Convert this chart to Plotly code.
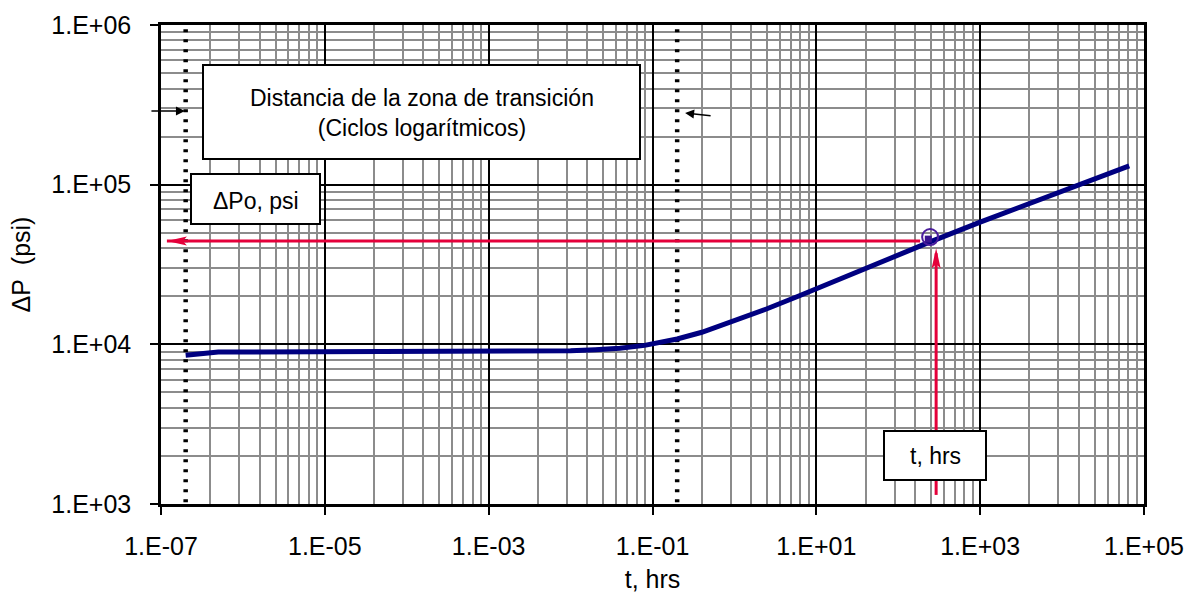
import math
import plotly.graph_objects as go

# ---------------- data ----------------
t_hrs = [2e-7, 3e-7, 4e-7, 5e-7, 1e-6, 1e-5, 1e-4, 1e-3, 5e-3, 1e-2, 2e-2, 4e-2,
         8e-2, 0.2, 0.4, 1, 2.5, 6, 11, 30, 100, 245, 1000, 3000, 1e4, 3e4, 6.6e4]
dp_psi = [8550, 8750, 8900, 8950, 8950, 8950, 8950, 8960, 9020, 9100, 9250, 9450,
          9850, 10800, 11900, 14000, 16700, 20000, 22800, 28200, 36200, 43800,
          58300, 72000, 91000, 112000, 131000]

match_t = [245]
match_dp = [47000]

# transition-zone dotted markers (t, hrs)
transition_t = [2e-7, 0.2]
transition_dp_span = [9.4e5, 1.0e3]

# red reading arrows
dpo_arrow_t = [185, 1.18e-7]
dpo_arrow_dp = [44400, 44400]
t_arrow_t = [290, 290]
t_arrow_dp = [1140, 40000]

x_tickvals = [1e-7, 1e-5, 1e-3, 1e-1, 1e1, 1e3, 1e5]
x_ticktext = ["1.E-07", "1.E-05", "1.E-03", "1.E-01", "1.E+01", "1.E+03", "1.E+05"]
y_tickvals = [1e3, 1e4, 1e5, 1e6]
y_ticktext = ["1.E+03", "1.E+04", "1.E+05", "1.E+06"]

# ---------------- layout geometry ----------------
W, H = 1191, 597
L, R, T, B = 161, 1144, 25, 504
FONT = "Liberation Sans, Arial, sans-serif"
RED = "#E4003A"
NAVY = "#000080"


def px_x(p):
    return (p - L) / (R - L)


def px_y(p):
    return (B - p) / (B - T)


# minor gridlines: x uses base-100 style spacing (k^2 within each 2-decade span)
x_minor = [10 ** e * k * k for e in range(-7, 5, 2) for k in range(2, 10)]
y_minor = [10 ** e * k for e in range(3, 6) for k in range(2, 10)]

fig = go.Figure()

# dotted transition lines
for tx in transition_t:
    fig.add_trace(go.Scatter(
        x=[tx, tx], y=transition_dp_span, mode="lines",
        line=dict(color="black", width=4.5, dash="3px,7px"),
        hoverinfo="skip", showlegend=False, cliponaxis=False))

# red arrow shafts
fig.add_trace(go.Scatter(x=dpo_arrow_t, y=dpo_arrow_dp, mode="lines",
                         line=dict(color=RED, width=3), showlegend=False, hoverinfo="skip"))
fig.add_trace(go.Scatter(x=t_arrow_t, y=[t_arrow_dp[0], t_arrow_dp[1] * 0.93], mode="lines",
                         line=dict(color=RED, width=3), showlegend=False, hoverinfo="skip"))

# main curve
fig.add_trace(go.Scatter(x=t_hrs, y=dp_psi, mode="lines",
                         line=dict(color=NAVY, width=5), showlegend=False, name="ΔP"))

# match point
fig.add_trace(go.Scatter(x=match_t, y=match_dp, mode="markers",
                         marker=dict(symbol="circle-open", size=16, color="#4A1C9C",
                                     line=dict(width=2, color="#4A1C9C")),
                         showlegend=False))
fig.add_trace(go.Scatter(x=[match_t[0] * 0.95], y=[match_dp[0] * 0.97], mode="markers",
                         marker=dict(symbol="square", size=7, color="#3A1390"),
                         showlegend=False))

shapes = []
# arrow heads (pixel-sized paths anchored at tips)
shapes.append(dict(type="path", xref="x", yref="y", xsizemode="pixel", ysizemode="pixel",
                   xanchor=dpo_arrow_t[1], yanchor=dpo_arrow_dp[1],
                   path="M0,0 L20,4.5 L16,0 L20,-4.5 Z", fillcolor=RED, line=dict(width=0)))
shapes.append(dict(type="path", xref="x", yref="y", xsizemode="pixel", ysizemode="pixel",
                   xanchor=t_arrow_t[1], yanchor=t_arrow_dp[1],
                   path="M0,0 L4.5,-20 L0,-16 L-4.5,-20 Z", fillcolor=RED, line=dict(width=0)))

# text boxes
boxes = [
    (203, 640, 65, 159),
    (191, 320, 174, 224),
    (884, 986, 431, 480),
]
for x0, x1, y0, y1 in boxes:
    shapes.append(dict(type="rect", xref="paper", yref="paper",
                       x0=px_x(x0), x1=px_x(x1), y0=px_y(y1), y1=px_y(y0),
                       fillcolor="white", line=dict(color="black", width=2), layer="above"))

box_font = dict(family=FONT, size=23, color="black")
annotations = [
    dict(xref="paper", yref="paper", x=px_x(421.5), y=px_y(113), showarrow=False,
         xanchor="center", yanchor="middle",
         text="Distancia de la zona de transición<br>(Ciclos logarítmicos)",
         font=box_font, align="center"),
    dict(xref="paper", yref="paper", x=px_x(255.5), y=px_y(201), showarrow=False,
         xanchor="center", yanchor="middle", text="ΔPo, psi", font=box_font),
    dict(xref="paper", yref="paper", x=px_x(935), y=px_y(456), showarrow=False,
         xanchor="center", yanchor="middle", text="t, hrs", font=box_font),
    # small black arrows marking the transition distance
    dict(xref="x", yref="y", x=math.log10(1.96e-7), y=math.log10(2.89e5), text="",
         showarrow=True, arrowhead=2, arrowsize=1.2, arrowwidth=1.5, arrowcolor="black",
         ax=-35, ay=0),
    dict(xref="x", yref="y", x=math.log10(0.25), y=math.log10(2.81e5), text="",
         showarrow=True, arrowhead=2, arrowsize=1.2, arrowwidth=1.5, arrowcolor="black",
         ax=27, ay=3),
]

fig.update_layout(
    width=W, height=H,
    margin=dict(l=L, r=W - R, t=T, b=H - B, autoexpand=False),
    paper_bgcolor="white", plot_bgcolor="white",
    font=dict(family=FONT, size=25, color="black"),
    showlegend=False,
    shapes=shapes, annotations=annotations,
    xaxis=dict(
        type="log", range=[-7, 5], tickvals=x_tickvals, ticktext=x_ticktext,
        showgrid=True, gridcolor="black", gridwidth=1.8,
        minor=dict(tickvals=x_minor, showgrid=True, gridcolor="#8c8c8c", gridwidth=1.6, ticks=""),
        showline=True, linecolor="black", linewidth=2.5, mirror=True,
        ticks="outside", ticklen=8, tickwidth=1.5, tickcolor="black",
        ticklabelstandoff=10, tickfont=dict(size=25),
        title=dict(text="t, hrs", font=dict(size=25), standoff=12),
        zeroline=False, automargin=False,
    ),
    yaxis=dict(
        type="log", range=[3, 6], tickvals=y_tickvals, ticktext=y_ticktext,
        showgrid=True, gridcolor="black", gridwidth=1.8,
        minor=dict(tickvals=y_minor, showgrid=True, gridcolor="#8c8c8c", gridwidth=1.6, ticks=""),
        showline=True, linecolor="black", linewidth=2.5, mirror=True,
        ticks="outside", ticklen=8, tickwidth=1.5, tickcolor="black",
        ticklabelstandoff=14, tickfont=dict(size=25),
        title=dict(text="ΔP\u00a0 (psi)", font=dict(size=25), standoff=14),
        zeroline=False, automargin=False,
    ),
)

fig.write_html("out.html")
